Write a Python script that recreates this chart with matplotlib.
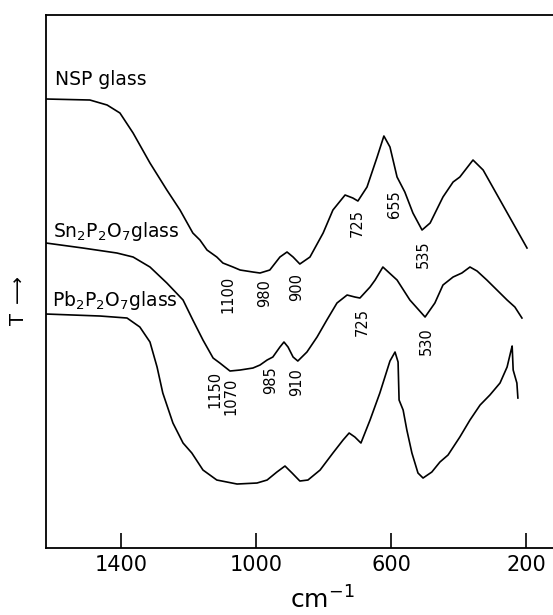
import matplotlib
matplotlib.use("Agg")
import matplotlib.pyplot as plt

# wavenumber (cm^-1) and transmittance (arbitrary units)
nsp_x = [1622, 1492, 1441, 1403, 1364, 1314, 1264, 1225, 1187, 1166, 1145, 1116, 1098, 1068, 1047, 1009, 988, 959, 929, 908, 890, 870, 840, 801, 772, 736, 713, 698, 671, 641, 621, 603, 582, 559, 535, 508, 484, 446, 416, 396, 357, 327, 277, 227, 197]
nsp_y = [449, 448, 443, 435, 415, 385, 358, 338, 315, 308, 298, 291, 285, 281, 278, 276, 275, 278, 291, 296, 291, 284, 291, 315, 338, 353, 350, 347, 361, 391, 412, 401, 371, 356, 335, 318, 325, 351, 366, 371, 388, 378, 348, 318, 300]

sn_x = [1622, 1513, 1412, 1364, 1314, 1264, 1216, 1187, 1157, 1127, 1107, 1077, 1047, 1009, 988, 967, 950, 929, 917, 905, 890, 876, 849, 819, 790, 760, 730, 707, 692, 662, 647, 624, 582, 544, 499, 470, 446, 416, 390, 366, 345, 316, 286, 256, 233, 212]
sn_y = [305, 300, 295, 291, 281, 265, 248, 228, 208, 190, 185, 177, 178, 180, 183, 188, 191, 201, 206, 201, 191, 187, 196, 211, 228, 245, 253, 251, 250, 261, 268, 281, 268, 248, 231, 245, 263, 271, 275, 281, 277, 268, 258, 248, 241, 230]

pb_x = [1622, 1462, 1382, 1344, 1314, 1293, 1276, 1246, 1216, 1190, 1157, 1116, 1056, 997, 967, 938, 914, 893, 870, 846, 810, 772, 742, 724, 707, 689, 662, 633, 603, 588, 579, 576, 564, 553, 538, 520, 505, 479, 455, 431, 396, 366, 336, 307, 277, 256, 244, 241, 238, 227, 224]
pb_y = [234, 232, 230, 221, 206, 181, 155, 125, 105, 95, 78, 68, 64, 65, 68, 76, 82, 75, 67, 68, 78, 95, 108, 115, 111, 105, 128, 155, 187, 196, 186, 148, 138, 118, 95, 75, 70, 76, 86, 93, 111, 128, 143, 153, 165, 181, 198, 202, 178, 165, 150]

series_names = ["NSP glass", "Sn$_2$P$_2$O$_7$glass", "Pb$_2$P$_2$O$_7$glass"]

nsp_marks = ["1100", "980", "900", "725", "655", "535"]
nsp_mark_x = [1083, 973, 879, 701, 591, 505]
nsp_mark_y = [254, 255, 261, 325, 344, 294]

sn_marks = ["1150", "1070", "985", "910", "725", "530"]
sn_mark_x = [1121, 1074, 956, 879, 686, 496]
sn_mark_y = [159, 152, 168, 166, 226, 207]

xticks = [1400, 1000, 600, 200]

fig = plt.figure(figsize=(5.53, 6.15), dpi=100)
ax = fig.add_axes([0.0832, 0.1089, 0.9168, 0.8667])

for xs, ys in [(nsp_x, nsp_y), (sn_x, sn_y), (pb_x, pb_y)]:
    ax.plot(xs, ys, color="black", lw=1.2, solid_joinstyle="round")

ax.set_xlim(1622, 120)
ax.set_ylim(0, 533)

ax.text(1596, 469, series_names[0], fontsize=13.5, va="center", ha="left")
ax.text(1601, 317, series_names[1], fontsize=13.5, va="center", ha="left")
ax.text(1604, 248, series_names[2], fontsize=13.5, va="center", ha="left")

for t, x, y in zip(nsp_marks, nsp_mark_x, nsp_mark_y):
    ax.text(x, y, t, rotation=90, fontsize=10.5, ha="center", va="center")
for t, x, y in zip(sn_marks, sn_mark_x, sn_mark_y):
    ax.text(x, y, t, rotation=90, fontsize=10.5, ha="center", va="center")

ax.set_xticks(xticks)
ax.set_xticklabels([str(t) for t in xticks], fontsize=15)
ax.tick_params(axis="x", direction="in", length=11, width=1.2, pad=5)
ax.set_yticks([])
ax.spines["right"].set_visible(False)
for s in ["left", "bottom", "top"]:
    ax.spines[s].set_linewidth(1.3)

fig.text(322 / 553, 6 / 615, "cm$^{-1}$", fontsize=18, ha="center", va="baseline")
fig.text(0.033, 0.512, "T $\\longrightarrow$", rotation=90, fontsize=14, ha="center", va="center")

fig.savefig("out.png", dpi=100)
